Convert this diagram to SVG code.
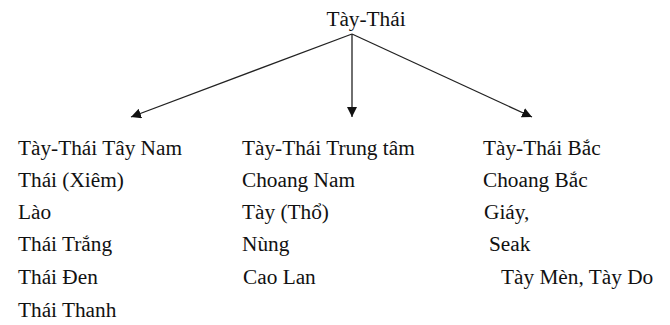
<svg xmlns="http://www.w3.org/2000/svg" width="670" height="325" viewBox="0 0 670 325">
<defs>
<style>
text{font-family:"Liberation Serif","Times New Roman",serif;font-size:21.3px;fill:#111}
.c{stroke:#222;stroke-width:1.3;fill:none}
</style>
<marker id="ah" viewBox="0 0 10 10" refX="10" refY="5" markerWidth="10" markerHeight="10" markerUnits="userSpaceOnUse" orient="auto"><path d="M0,0 L10,5 L0,10 z" fill="#111"/></marker>
</defs>
<rect width="670" height="325" fill="#fff"/>
<g id="connectors">
<line class="c" x1="352" y1="34" x2="131" y2="117" marker-end="url(#ah)"/>
<line class="c" x1="352" y1="34" x2="352" y2="117" marker-end="url(#ah)"/>
<line class="c" x1="352" y1="34" x2="532" y2="117" marker-end="url(#ah)"/>
</g>
<g id="root"><text x="366" y="26" text-anchor="middle">Tày-Thái</text></g>
<g id="southwest">
<text x="18" y="155">Tày-Thái Tây Nam</text>
<text x="18" y="187">Thái (Xiêm)</text>
<text x="18" y="219">Lào</text>
<text x="18" y="251">Thái Trắng</text>
<text x="18" y="284">Thái Đen</text>
<text x="18" y="317">Thái Thanh</text>
</g>
<g id="central">
<text x="242" y="155">Tày-Thái Trung tâm</text>
<text x="242" y="187">Choang Nam</text>
<text x="242" y="219">Tày (Thổ)</text>
<text x="242" y="251">Nùng</text>
<text x="243" y="284">Cao Lan</text>
</g>
<g id="north">
<text x="483" y="155">Tày-Thái Bắc</text>
<text x="483" y="187">Choang Bắc</text>
<text x="484" y="219">Giáy,</text>
<text x="489" y="251">Seak</text>
<text x="501" y="284">Tày Mèn, Tày Do</text>
</g>
</svg>
